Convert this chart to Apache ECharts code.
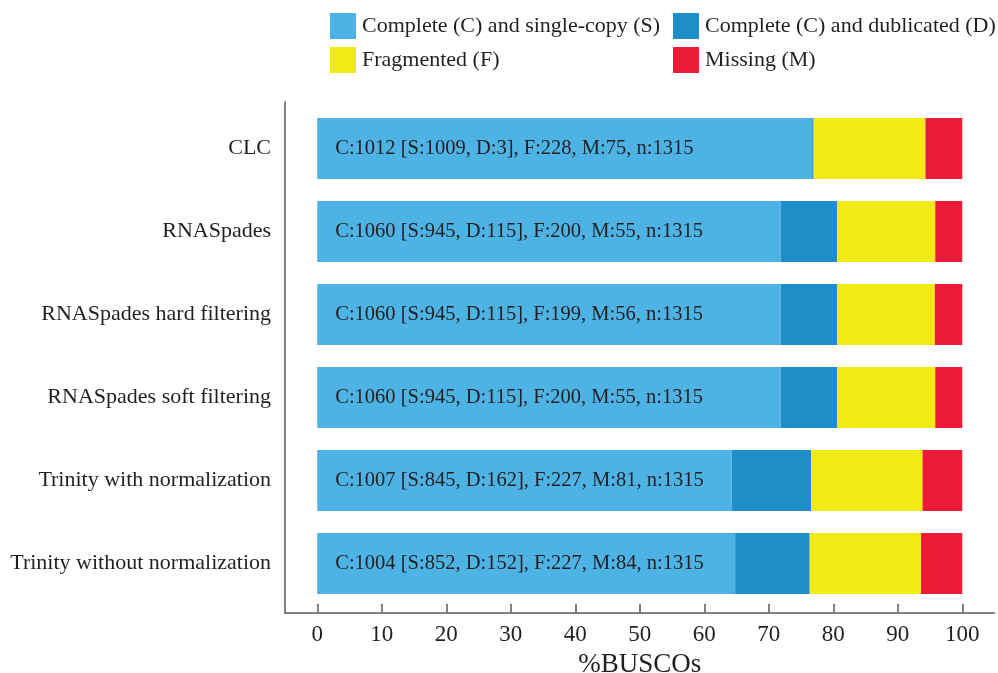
<!DOCTYPE html>
<html>
<head>
<meta charset="utf-8">
<script src="https://cdn.jsdelivr.net/npm/echarts@6/dist/echarts.min.js"></script>
<style>html,body{margin:0;padding:0;background:#fff}#c{width:998px;height:673px}</style>
</head>
<body>
<div id="c"></div>
<script>
const categories = ['CLC','RNASpades','RNASpades hard filtering','RNASpades soft filtering','Trinity with normalization','Trinity without normalization'];
const singleCopy = [76.73, 71.86, 71.86, 71.86, 64.26, 64.79];
const duplicated = [0.23, 8.75, 8.75, 8.75, 12.32, 11.56];
const fragmented = [17.34, 15.21, 15.13, 15.21, 17.26, 17.26];
const missing = [5.70, 4.18, 4.26, 4.18, 6.16, 6.39];
const barTexts = [
  'C:1012 [S:1009, D:3], F:228, M:75, n:1315',
  'C:1060 [S:945, D:115], F:200, M:55, n:1315',
  'C:1060 [S:945, D:115], F:199, M:56, n:1315',
  'C:1060 [S:945, D:115], F:200, M:55, n:1315',
  'C:1007 [S:845, D:162], F:227, M:81, n:1315',
  'C:1004 [S:852, D:152], F:227, M:84, n:1315'
];
const xTicks = [0,10,20,30,40,50,60,70,80,90,100];
const seriesNames = ['Complete (C) and single-copy (S)','Complete (C) and dublicated (D)','Fragmented (F)','Missing (M)'];
const colors = ['#4db2e4','#1e8ec8','#f1ea16','#ed1b36'];

const FONT = "'Liberation Serif', 'DejaVu Serif', serif";
const TXT = '#231f20';
const AX = '#5a5a5a';

const chart = echarts.init(document.getElementById('c'));
const mk = (i, data, extra) => Object.assign({
  name: seriesNames[i], type: 'bar', stack: 'total', data: data,
  xAxisIndex: 0, yAxisIndex: 0, barWidth: 61,
  itemStyle: {color: colors[i]}, animation: false
}, extra || {});

const legendBase = {orient: 'vertical', itemWidth: 26, itemHeight: 26, itemGap: 8, padding: 0,
  icon: 'rect', itemStyle: {borderWidth: 0},
  textStyle: {fontFamily: FONT, fontSize: 22, color: TXT, padding: [4,0,0,1]}};

chart.setOption({
  animation: false,
  textStyle: {fontFamily: FONT, color: TXT},
  color: colors,
  legend: [
    Object.assign({left: 330, top: 13, data: [seriesNames[0], seriesNames[2]]}, legendBase),
    Object.assign({left: 673, top: 13, data: [seriesNames[1], seriesNames[3]]}, legendBase)
  ],
  grid: [
    {left: 285, right: 3.5, top: 107, height: 498, containLabel: false, outerBoundsMode: 'none'},
    {left: 285, right: 3.5, top: 101.7, bottom: 60.3, containLabel: false, outerBoundsMode: 'none'}
  ],
  xAxis: [
    {gridIndex: 0, type: 'value', min: -5, max: 105, show: false},
    {gridIndex: 1, type: 'value', min: -5, max: 105, position: 'bottom',
     name: '%BUSCOs', nameLocation: 'middle', nameGap: 37,
     nameTextStyle: {fontFamily: FONT, fontSize: 27, color: TXT},
     axisLine: {show: true, onZero: false, lineStyle: {color: AX, width: 1.5}},
     axisTick: {show: true, inside: true, length: 9, lineStyle: {color: AX, width: 1.5}, customValues: xTicks},
     axisLabel: {show: true, fontFamily: FONT, fontSize: 23, color: TXT, margin: 11, customValues: xTicks},
     splitLine: {show: false}}
  ],
  yAxis: [
    {gridIndex: 0, type: 'category', inverse: true, data: categories,
     axisLine: {show: false}, axisTick: {show: false},
     axisLabel: {fontFamily: FONT, fontSize: 22, color: TXT, margin: 14, padding: [4,0,0,0]}},
    {gridIndex: 1, type: 'value', min: 0, max: 1,
     axisLine: {show: true, onZero: false, lineStyle: {color: AX, width: 1.5}},
     axisTick: {show: false}, axisLabel: {show: false}, splitLine: {show: false}}
  ],
  series: [
    mk(0, singleCopy, {label: {show: true, position: 'insideLeft', distance: 18,
      fontFamily: FONT, fontSize: 20.5, color: TXT, padding: [4,0,0,0],
      formatter: p => barTexts[p.dataIndex]}}),
    mk(1, duplicated),
    mk(2, fragmented),
    mk(3, missing)
  ]
});
</script>
</body>
</html>
